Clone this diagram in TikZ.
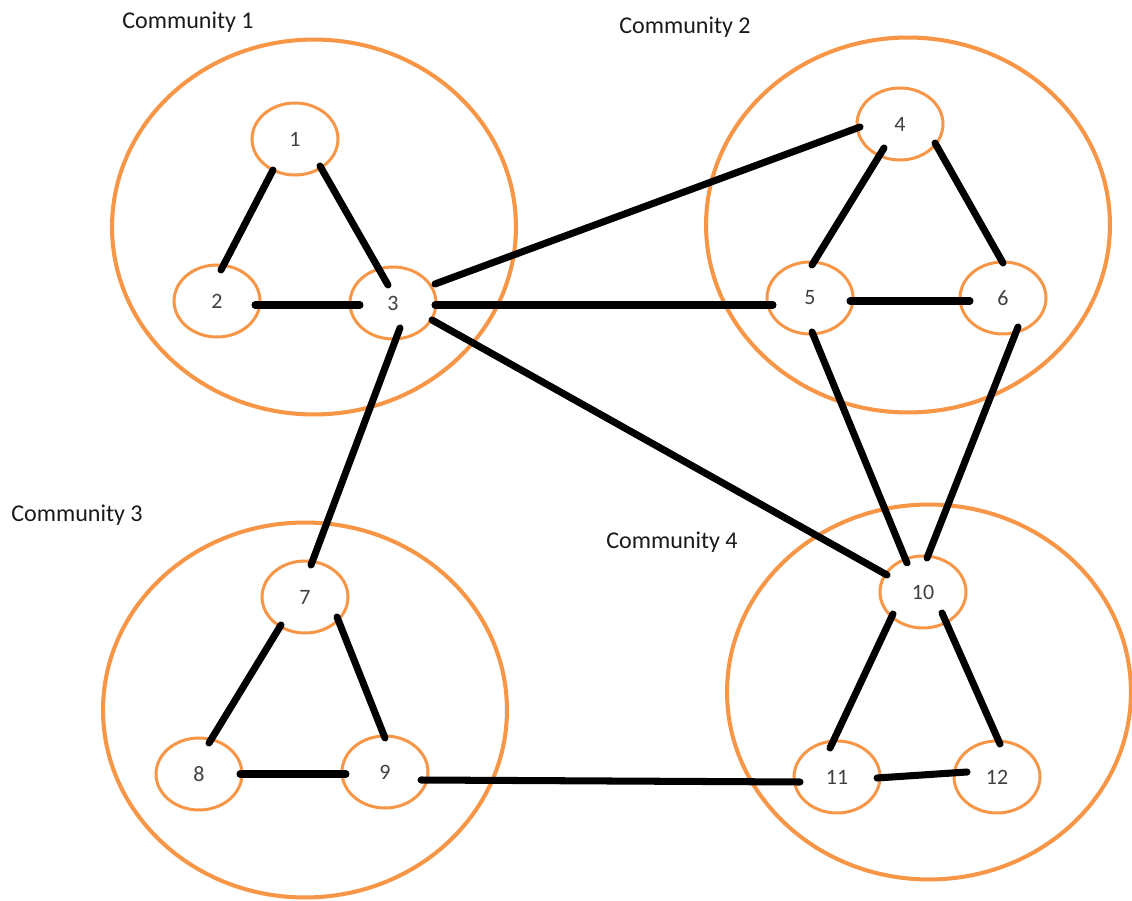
\documentclass[tikz,border=0pt]{standalone}
\usepackage{fontspec}
\setmainfont{Carlito}
\usetikzlibrary{shapes.geometric}
\definecolor{ringorange}{HTML}{F79646}
\definecolor{numgray}{HTML}{404040}
\definecolor{labelink}{HTML}{1A1A1A}
\begin{document}
\begin{tikzpicture}[x=0.02cm,y=-0.02cm,
  community/.style={ellipse,draw=ringorange,line width=2.3pt,inner sep=0pt,
    minimum width=8.08cm,minimum height=7.5cm},
  vertex/.style={ellipse,draw=ringorange,line width=1.7pt,inner sep=0pt,
    minimum width=1.72cm,minimum height=1.44cm,
    font=\fontsize{12.5}{14}\selectfont,text=numgray},
  commlabel/.style={font=\fontsize{13.7}{16}\selectfont,text=labelink},
  link/.style={line width=4pt,line cap=round,black}]
\useasboundingbox (0,0) rectangle (1132,901);
\fill[white] (0,0) rectangle (1132,901);

% community rings
\node[community] (c1) at (314,227) {};
\node[community] (c2) at (908,225) {};
\node[community] (c3) at (305,710) {};
\node[community] (c4) at (929,692) {};

% community titles
\node[commlabel] (t1) at (188,22) {Community 1};
\node[commlabel] (t2) at (685,27) {Community 2};
\node[commlabel] (t3) at (77,515) {Community 3};
\node[commlabel] (t4) at (672,542) {Community 4};

% vertices
\node[vertex] (n1) at (295,139) {1};
\node[vertex] (n2) at (217,301) {2};
\node[vertex] (n3) at (393,303) {3};
\node[vertex] (n4) at (900,124) {4};
\node[vertex] (n5) at (810,298) {5};
\node[vertex] (n6) at (1003,298) {6};
\node[vertex] (n7) at (305,597) {7};
\node[vertex] (n8) at (199,774) {8};
\node[vertex] (n9) at (385,772) {9};
\node[vertex] (n10) at (923,592) {10};
\node[vertex] (n11) at (837,777) {11};
\node[vertex] (n12) at (997,777) {12};

% waypoint where the long bottom link changes height
\coordinate (mid911) at (610,781);

% links
\draw[link] ([shift={(-22,31)}]n1.center) -- ([shift={(4,-31)}]n2.center);
\draw[link] ([shift={(25,27)}]n1.center) -- ([shift={(-5,-18)}]n3.center);
\draw[link] ([shift={(38,4)}]n2.center) -- ([shift={(-33,2)}]n3.center);
\draw[link] ([shift={(42,-19)}]n3.center) -- ([shift={(-40,3)}]n4.center);
\draw[link] ([shift={(42,2)}]n3.center) -- ([shift={(-37,7)}]n5.center);
\draw[link] ([shift={(39,17)}]n3.center) -- ([shift={(-36,-17)}]n10.center);
\draw[link] ([shift={(7,25)}]n3.center) -- ([shift={(6,-32)}]n7.center);
\draw[link] ([shift={(-16,24)}]n4.center) -- ([shift={(2,-33)}]n5.center);
\draw[link] ([shift={(35,19)}]n4.center) -- ([shift={(0,-35)}]n6.center);
\draw[link] ([shift={(40,3)}]n5.center) -- ([shift={(-33,3)}]n6.center);
\draw[link] ([shift={(2,34)}]n5.center) -- ([shift={(-16,-29)}]n10.center);
\draw[link] ([shift={(15,29)}]n6.center) -- ([shift={(4,-34)}]n10.center);
\draw[link] ([shift={(-24,28)}]n7.center) -- ([shift={(10,-31)}]n8.center);
\draw[link] ([shift={(32,20)}]n7.center) -- ([shift={(0,-34)}]n9.center);
\draw[link] ([shift={(41,0)}]n8.center) -- ([shift={(-39,2)}]n9.center);
\draw[link] ([shift={(36,8)}]n9.center) -- (mid911) -- ([shift={(-37,5)}]n11.center);
\draw[link] ([shift={(-30,22)}]n10.center) -- ([shift={(-7,-29)}]n11.center);
\draw[link] ([shift={(19,21)}]n10.center) -- ([shift={(3,-33)}]n12.center);
\draw[link] ([shift={(40,1)}]n11.center) -- ([shift={(-30,-5)}]n12.center);
\end{tikzpicture}
\end{document}
